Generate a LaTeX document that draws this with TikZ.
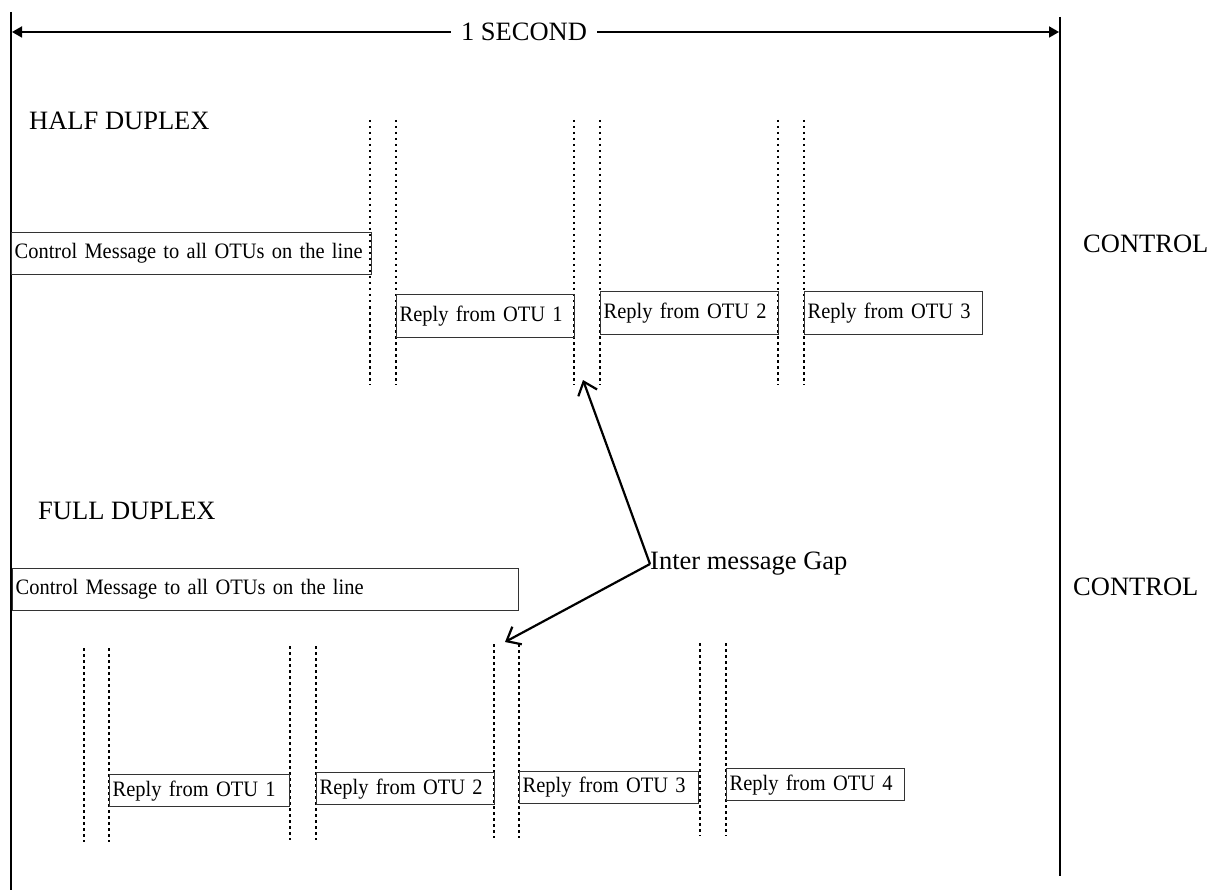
\documentclass[tikz,border=0pt]{standalone}
\usepackage{fontspec}
\setmainfont{Liberation Serif}
\newfontfamily\boxfont[FakeStretch=0.93]{Liberation Serif}
\usetikzlibrary{arrows.meta}
\begin{document}
\begin{tikzpicture}[x=1pt,y=-1pt,
  bigtxt/.style={inner sep=0pt,font=\fontsize{26.5}{30}\selectfont},
  msgbox/.style={draw=black!80,line width=1.4pt,inner xsep=3pt,inner ysep=0pt,align=left,anchor=north west,font=\boxfont\fontsize{22}{25}\selectfont},
  gapline/.style={line width=2pt,dash pattern=on 2.5pt off 3.5pt},
  rail/.style={line width=2.4pt},
  pointer/.style={line width=2.2pt,-{Straight Barb[length=12pt,width=20pt,line width=2.2pt]}},
  span/.style={line width=1.8pt,-{Triangle[length=10pt,width=11pt]}}]
\useasboundingbox (0,0) rectangle (1214,890);

% rails
\coordinate (lt) at (11,12);
\coordinate (lb) at (11,890);
\coordinate (rt) at (1060,17);
\coordinate (rb) at (1060,876);
\draw[rail] (lt) -- (lb);
\draw[rail] (rt) -- (rb);

% 1 second span
\node[bigtxt] (sec) at (524,32) {1 SECOND};
\coordinate (sl) at (12,32);
\coordinate (sr) at (1059,32);
\draw[span] ([xshift=-10pt]sec.west) -- (sl);
\draw[span] ([xshift=10pt]sec.east) -- (sr);

% labels
\node[bigtxt,anchor=west] (half) at (29,121) {HALF DUPLEX};
\node[bigtxt,anchor=west] (full) at (38,511) {FULL DUPLEX};
\node[bigtxt,anchor=west] (ctl1) at (1083,244) {CONTROL};
\node[bigtxt,anchor=west] (ctl2) at (1073,587) {CONTROL};
\node[bigtxt,anchor=west] (gap) at (650,564) {Inter message Gap};

% half duplex gaps
\foreach \x/\n in {370/a,396/b,574/c,600/d,778/e,804/f}{
  \coordinate (ht\n) at (\x,120);
  \coordinate (hb\n) at (\x,385);
  \draw[gapline] (ht\n) -- (hb\n);
}
% half duplex boxes
\node[msgbox,text width=354pt,minimum height=42pt] (hctl) at (11,232) {Control Message to all OTUs on the line};
\node[msgbox,text width=172pt,minimum height=43pt] (hr1) at (396,294) {Reply from OTU 1};
\node[msgbox,text width=172pt,minimum height=43pt] (hr2) at (600,291) {Reply from OTU 2};
\node[msgbox,text width=172pt,minimum height=43pt] (hr3) at (804,291) {Reply from OTU 3};

% full duplex gaps
\foreach \x/\t/\b/\n in {84/648/842/a,109/648/842/b,290/646/840/c,316/646/840/d,494/644/838/e,519/644/838/f,700/643/836/g,726/643/836/h}{
  \coordinate (ft\n) at (\x,\t);
  \coordinate (fb\n) at (\x,\b);
  \draw[gapline] (ft\n) -- (fb\n);
}
% full duplex boxes
\node[msgbox,text width=500pt,minimum height=42pt] (fctl) at (12,568) {Control Message to all OTUs on the line};
\node[msgbox,text width=174pt,minimum height=32pt] (fr1) at (109,774) {Reply from OTU 1};
\node[msgbox,text width=172pt,minimum height=32pt] (fr2) at (316,772) {Reply from OTU 2};
\node[msgbox,text width=173pt,minimum height=32pt] (fr3) at (519,770.5) {Reply from OTU 3};
\node[msgbox,text width=172pt,minimum height=32pt] (fr4) at (726,768) {Reply from OTU 4};

% pointers
\coordinate (p1) at (583,380);
\coordinate (p2) at (505,642);
\draw[pointer] (gap.west) -- (p1);
\draw[pointer] (gap.west) -- (p2);
\end{tikzpicture}
\end{document}
